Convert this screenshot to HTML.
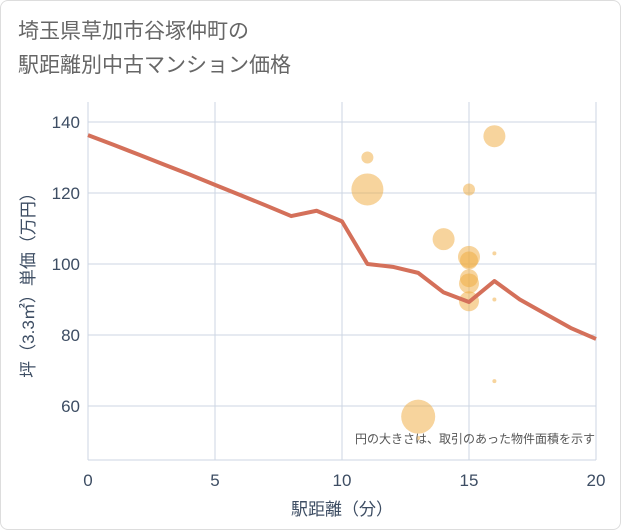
<!DOCTYPE html>
<html><head><meta charset="utf-8"><style>
body{margin:0;background:#fff;}
#wrap{position:relative;width:619px;height:528px;border:1px solid #ddd;border-radius:8px;overflow:hidden;font-family:"Liberation Sans","Noto Sans CJK JP",sans-serif;}
#title{position:absolute;left:17px;top:14px;font-size:21px;line-height:34px;color:#666;}
</style></head><body>
<div id="wrap">
<div id="title">埼玉県草加市谷塚仲町の<br>駅距離別中古マンション価格</div>
<svg id="chart" width="621" height="530" style="position:absolute;left:-1px;top:-1px"></svg>
</div>
<script>
const xTicks=[0,5,10,15,20];
const yTicks=[60,80,100,120,140];
const lineX=[0,1,2,3,4,5,6,7,8,9,10,11,12,13,14,15,16,17,18,19,20];
const lineY=[136.3,133.6,130.8,128,125.2,122.3,119.4,116.5,113.5,115,112,100,99.2,97.5,92,89.3,95.2,90,86,82,78.9];
const bubX=[11,11,13,13,14,15,15,15,15,15,15,16,16,16,16];
const bubY=[130,121,57,51,107,121,102,101,96,94.5,89.5,136,103,90,67];
const bubR=[6,16,17,2,11,6,11,9,9,10,10,11,2,2,2];
const L=88,R=596,T=102,B=460;
const sx=v=>L+(v-0)/(20-0)*(R-L);
const sy=v=>406-(v-60)*3.55;
const svg=document.getElementById('chart');
const NS='http://www.w3.org/2000/svg';
function mk(t,a){const e=document.createElementNS(NS,t);for(const k in a)e.setAttribute(k,a[k]);svg.appendChild(e);return e;}
let e;
xTicks.forEach(v=>{e=mk('line',{x1:sx(v),x2:sx(v),y1:T,y2:B,stroke:'#ccd6e3','stroke-width':1});


e=mk('text',{x:sx(v),y:486,'text-anchor':'middle','font-size':17,fill:'#3d4d63'});e.textContent=v;

});
yTicks.forEach(v=>{e=mk('line',{x1:L,x2:R,y1:sy(v),y2:sy(v),stroke:'#ccd6e3','stroke-width':1});


e=mk('text',{x:80,y:sy(v)+6,'text-anchor':'end','font-size':17,fill:'#3d4d63'});e.textContent=v;

});
e=mk('line',{x1:L,x2:L,y1:T,y2:B,stroke:'#ccd6e3'});


e=mk('line',{x1:L,x2:R,y1:B,y2:B,stroke:'#ccd6e3'});


bubX.forEach((x,i)=>{e=mk('circle',{cx:sx(x),cy:sy(bubY[i]),r:bubR[i],fill:'rgba(240,170,60,0.5)'});

});
e=mk('polyline',{points:lineX.map((x,i)=>sx(x)+','+sy(lineY[i])).join(' '),fill:'none',stroke:'#d4705a','stroke-width':4,'stroke-linejoin':'round'});


e=mk('text',{x:595,y:443,'text-anchor':'end','font-size':12,fill:'#555'});e.textContent='円の大きさは、取引のあった物件面積を示す';


e=mk('text',{x:342,y:515,'text-anchor':'middle','font-size':17,fill:'#3d4d63'});e.textContent='駅距離（分）';


e=mk('text',{x:0,y:0,'text-anchor':'middle','font-size':17,fill:'#3d4d63',transform:'translate(34,281) rotate(-90)'});e.textContent='坪（3.3㎡）単価（万円）';


</script>
</body></html>
